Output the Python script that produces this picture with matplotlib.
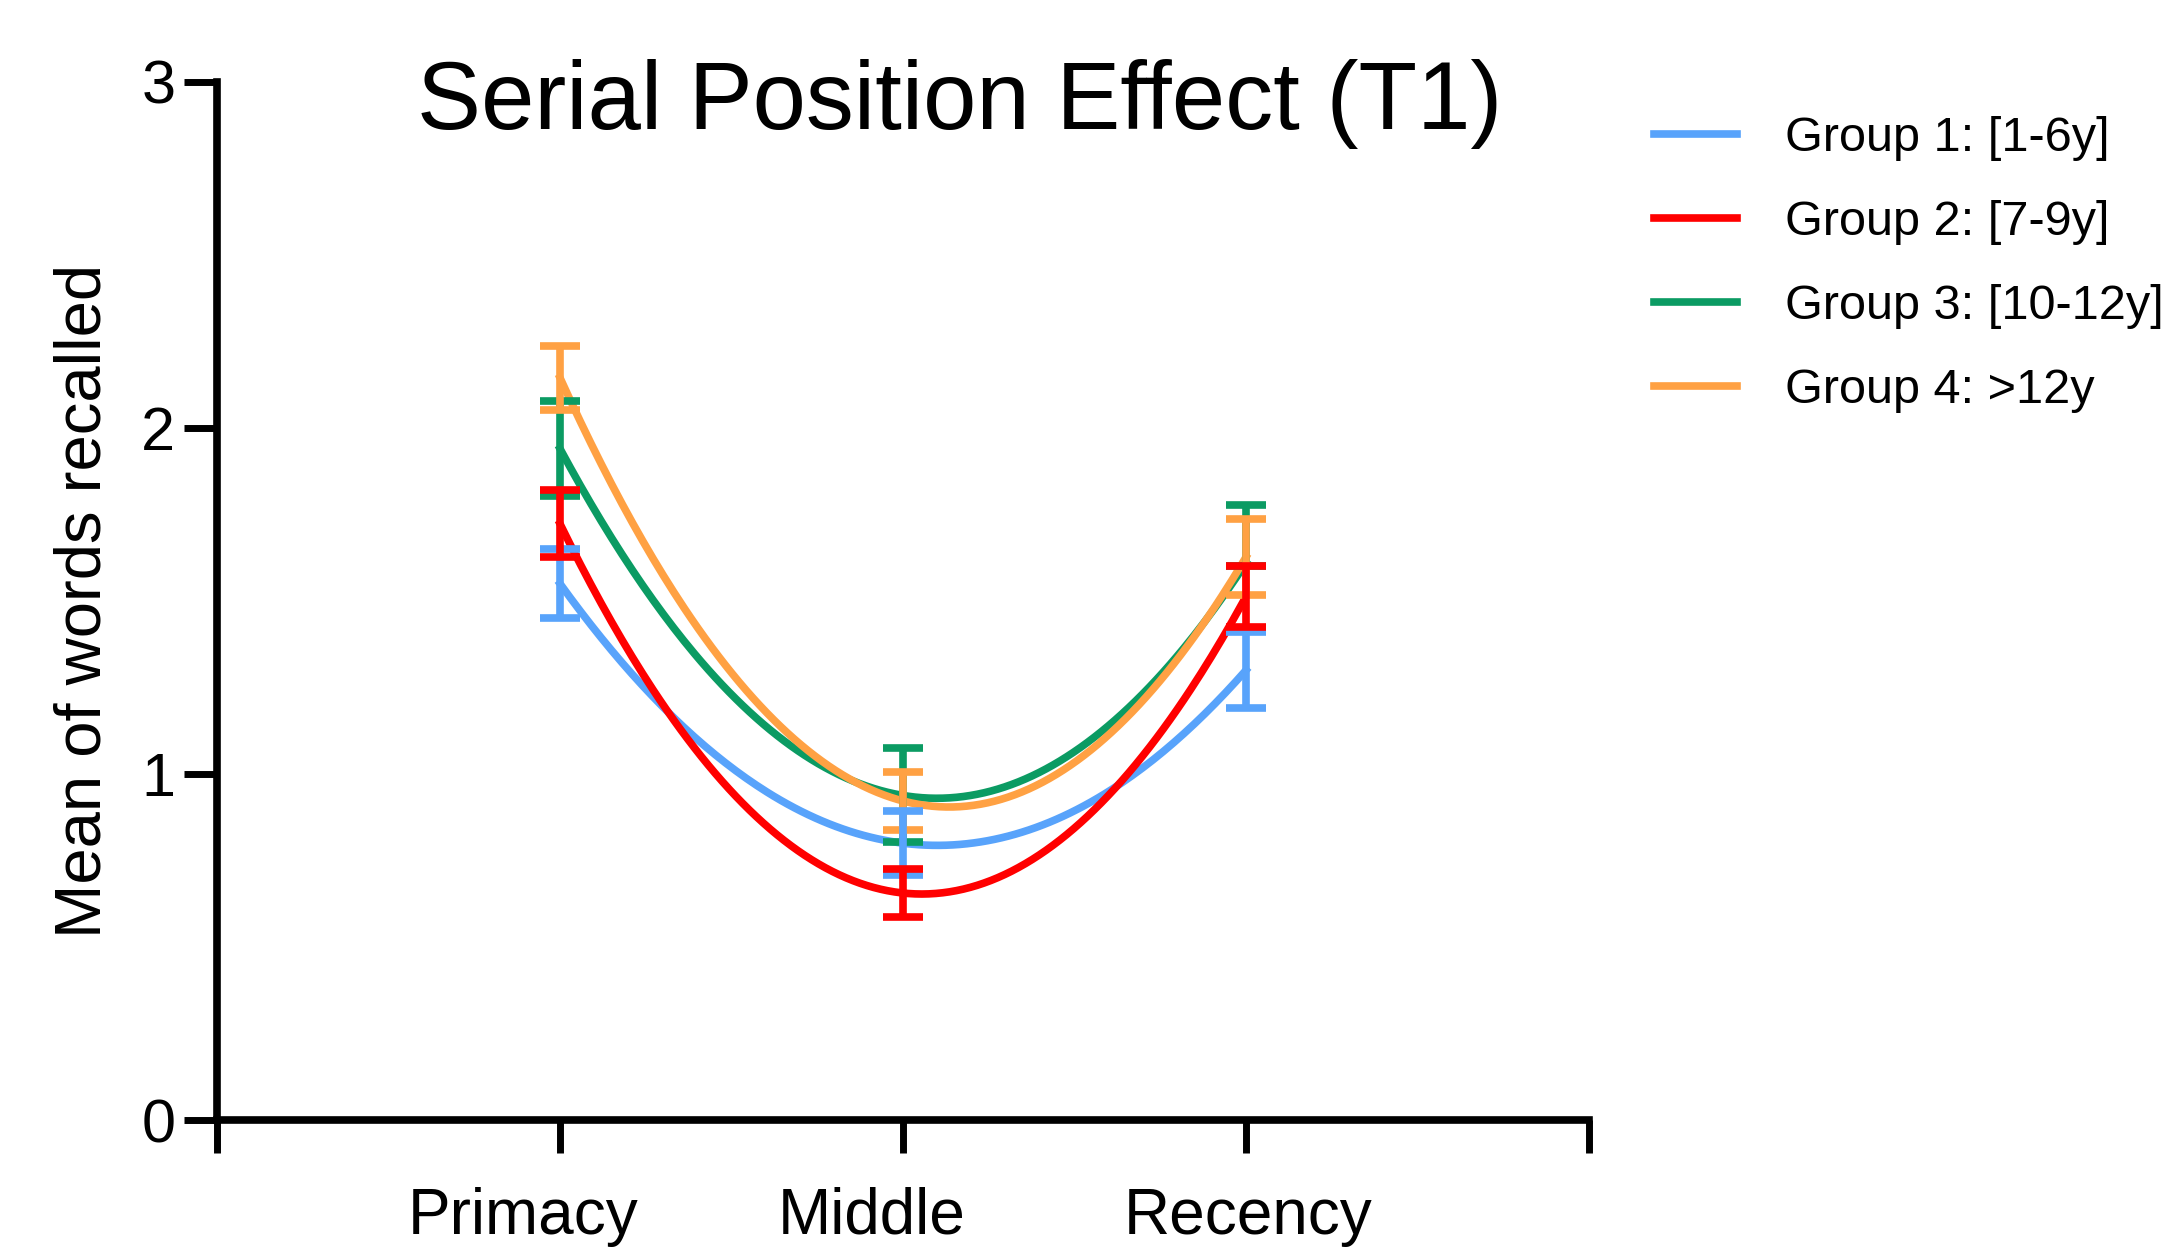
import matplotlib.pyplot as plt
import matplotlib.transforms as mtransforms
import numpy as np

plt.rcParams['font.family'] = ['Liberation Sans', 'DejaVu Sans']

positions = ['Primacy', 'Middle', 'Recency']
groups = ['Group 1: [1-6y]', 'Group 2: [7-9y]', 'Group 3: [10-12y]', 'Group 4: >12y']
colors = ['#58A3FB', '#FF0000', '#0B9B63', '#FFA143']

# mean words recalled at each serial position
g1_mean = [1.55, 0.80, 1.30]
g2_mean = [1.723, 0.656, 1.513]
g3_mean = [1.94, 0.938, 1.61]
g4_mean = [2.145, 0.922, 1.627]

# error bars (below / above the mean)
g1_lo = [0.10, 0.093, 0.11]
g1_hi = [0.10, 0.093, 0.11]
g2_lo = [0.097, 0.07, 0.087]
g2_hi = [0.097, 0.07, 0.087]
g3_lo = [0.137, 0.135, 0.01]
g3_hi = [0.137, 0.136, 0.168]
g4_lo = [0.092, 0.083, 0.111]
g4_hi = [0.092, 0.083, 0.111]

means = [g1_mean, g2_mean, g3_mean, g4_mean]
lows = [g1_lo, g2_lo, g3_lo, g4_lo]
highs = [g1_hi, g2_hi, g3_hi, g4_hi]

x = np.array([1, 2, 3])
xs = np.linspace(1, 3, 200)

fig = plt.figure(figsize=(21.72, 12.51), dpi=100)
ax = fig.add_axes([0.0999, 0.1047, 0.6317, 0.8298])

for i in [2, 3, 0, 1]:
    m = np.array(means[i])
    coef = np.polyfit(x, m, 2)  # quadratic fit curve
    ax.plot(xs, np.polyval(coef, xs), color=colors[i], lw=5.5, zorder=2)
    ax.errorbar(x, m, yerr=[lows[i], highs[i]], fmt='none', ecolor=colors[i],
                elinewidth=5.5, capsize=14.5, capthick=5.5, zorder=3)
handles = [plt.Line2D([], [], color=c, lw=5.5) for c in colors]

ax.set_xlim(0, 4)
ax.set_ylim(0, 3)
ax.set_xticks([0, 1, 2, 3, 4])
ax.set_xticklabels([''] + positions + [''])
ax.set_yticks([0, 1, 2, 3])
for s in ['top', 'right']:
    ax.spines[s].set_visible(False)
for s in ['left', 'bottom']:
    ax.spines[s].set_linewidth(5.5)
ax.tick_params(axis='both', length=24, width=5, direction='out')
ax.tick_params(axis='x', labelsize=46, pad=24)
ax.tick_params(axis='y', labelsize=44, pad=6)

# small horizontal shifts of category labels, as in the original
shifts = [0, -37, -31, 2, 0]
for lab, dx in zip(ax.get_xticklabels(), shifts):
    lab.set_transform(lab.get_transform() + mtransforms.ScaledTranslation(dx / 100, 0, fig.dpi_scale_trans))

ax.set_ylabel('Mean of words recalled', fontsize=47, labelpad=20)

fig.text(960 / 2172, 1 - 104 / 1251, 'Serial Position Effect (T1)', fontsize=69,
         ha='center', va='center')

fig.legend(handles, groups, loc='upper left', bbox_to_anchor=(1654 / 2172, 1 - 116 / 1251),
           frameon=False, fontsize=35, handlelength=1.7, handletextpad=1.0,
           labelspacing=0.80, borderpad=0, borderaxespad=0)

fig.savefig('out.png', dpi=100)
